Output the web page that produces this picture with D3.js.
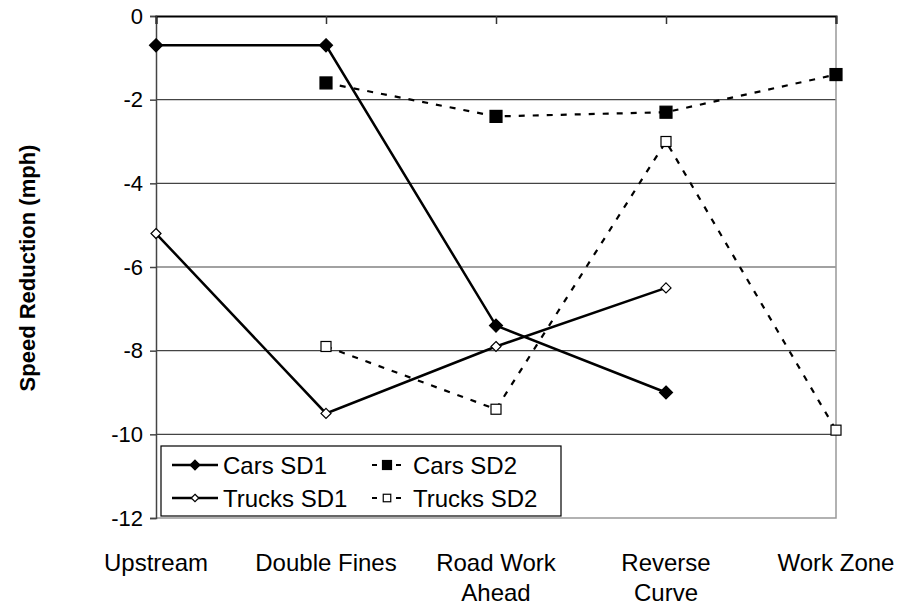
<!DOCTYPE html>
<html><head><meta charset="utf-8">
<script src="https://cdn.jsdelivr.net/npm/d3@7"></script>
<style>body{margin:0;background:#fff}svg{display:block;font-family:Arial,"Liberation Sans",sans-serif}</style>
</head><body>
<svg id="c" width="899" height="607"></svg>
<script>
const categories = ["Upstream","Double Fines","Road Work Ahead","Reverse Curve","Work Zone"];
const catLines = [["Upstream"],["Double Fines"],["Road Work","Ahead"],["Reverse","Curve"],["Work Zone"]];
const carsSD1 = [-0.7,-0.7,-7.4,-9.0,null];
const carsSD2 = [null,-1.6,-2.4,-2.3,-1.4];
const trucksSD1 = [-5.2,-9.5,-7.9,-6.5,null];
const trucksSD2 = [null,-7.9,-9.4,-3.0,-9.9];
const yTicks = [0,-2,-4,-6,-8,-10,-12];
const seriesNames = ["Cars SD1","Cars SD2","Trucks SD1","Trucks SD2"];

const svg = d3.select("#c");
const L=156,R=836,T=16,B=518;
const x = d3.scalePoint().domain(categories).range([L,R]);
const y = d3.scaleLinear().domain([-12,0]).range([B,T]);
const FONT = "Arial,'Liberation Sans',sans-serif";

// gridlines
svg.append("g").selectAll("line").data(yTicks.filter(v=>v<0&&v>-12)).join("line")
  .attr("x1",L).attr("x2",R).attr("y1",d=>y(d)).attr("y2",d=>y(d))
  .attr("stroke","#444").attr("stroke-width",1.2);
// plot border (right & bottom)
svg.append("path").attr("d",`M${L},${B}H${R}V${T}`).attr("fill","none").attr("stroke","#999").attr("stroke-width",1.5);

// y axis
const ya = svg.append("g").attr("transform",`translate(${L},0)`)
  .call(d3.axisLeft(y).tickValues(yTicks).tickSize(6).tickPadding(7).tickFormat(d=>String(d)));
ya.select(".domain").attr("stroke","#444").attr("stroke-width",1.5);
ya.selectAll(".tick line").attr("stroke","#444").attr("stroke-width",1.5);
ya.selectAll("text").attr("font-size",22).attr("font-family",FONT).attr("fill","#000");

// x axis at y=0 (top), ticks down
const xa = svg.append("g").attr("transform",`translate(0,${y(0)})`)
  .call(d3.axisBottom(x).tickSize(8).tickFormat(""));
xa.select(".domain").attr("stroke","#000").attr("stroke-width",2);
xa.selectAll(".tick line").attr("stroke","#333").attr("stroke-width",1.5);

// category labels at bottom
const cl = svg.append("g").selectAll("text").data(categories).join("text")
  .attr("x",d=>x(d)).attr("y",571).attr("text-anchor","middle").attr("font-size",24).attr("fill","#000");
cl.each(function(d,i){
  const t=d3.select(this);
  catLines[i].forEach((s,j)=>t.append("tspan").attr("x",x(d)).attr("dy",j?30:0).text(s));
});

// y title
svg.append("text").attr("transform","translate(35,268) rotate(-90)").attr("text-anchor","middle")
  .attr("font-size",22).attr("font-weight","bold").text("Speed Reduction (mph)");

// series
const lineGen = d3.line().defined(d=>d.v!=null).x(d=>x(d.c)).y(d=>y(d.v));
function pts(arr){return arr.map((v,i)=>({c:categories[i],v}));}
const styles = {
  "Cars SD1":{data:carsSD1,dash:null,w:2.5,marker:"diamond",fill:"#000",size:13},
  "Cars SD2":{data:carsSD2,dash:"6,8",w:2.2,marker:"square",fill:"#000",size:12},
  "Trucks SD1":{data:trucksSD1,dash:null,w:2.5,marker:"diamond",fill:"#fff",size:10},
  "Trucks SD2":{data:trucksSD2,dash:"6,8",w:2.2,marker:"square",fill:"#fff",size:10}
};
function drawMarker(g,st,cx,cy){
  const s=st.size;
  if(st.marker==="diamond"){
    g.append("path").attr("d",`M${cx},${cy-s/2}L${cx+s/2},${cy}L${cx},${cy+s/2}L${cx-s/2},${cy}Z`)
      .attr("fill",st.fill).attr("stroke","#000").attr("stroke-width",1.2);
  } else {
    g.append("rect").attr("x",cx-s/2).attr("y",cy-s/2).attr("width",s).attr("height",s)
      .attr("fill",st.fill).attr("stroke","#000").attr("stroke-width",1.2);
  }
}
["Trucks SD2","Cars SD2","Trucks SD1","Cars SD1"].forEach(n=>{
  const st=styles[n]; const g=svg.append("g");
  g.append("path").attr("d",lineGen(pts(st.data))).attr("fill","none").attr("stroke","#000")
    .attr("stroke-width",st.w).attr("stroke-dasharray",st.dash);
  pts(st.data).filter(d=>d.v!=null).forEach(d=>drawMarker(g,st,x(d.c),y(d.v)));
});

// legend
const lg = svg.append("g");
lg.append("rect").attr("x",161).attr("y",446).attr("width",400).attr("height",70)
  .attr("fill","#fff").attr("stroke","#000").attr("stroke-width",1.2);
const legPos = {"Cars SD1":[172,465],"Trucks SD1":[172,498],"Cars SD2":[372,465],"Trucks SD2":[372,498]};
seriesNames.forEach(n=>{
  const st=styles[n]; const [lx,ly]=legPos[n];
  const w = st.dash?30:46;
  lg.append("line").attr("x1",lx).attr("x2",lx+w).attr("y1",ly).attr("y2",ly).attr("stroke","#000")
    .attr("stroke-width",st.w).attr("stroke-dasharray",st.dash?"5,7":null);
  drawMarker(lg,Object.assign({},st,{size:st.size*0.75}),lx+w/2,ly);
  lg.append("text").attr("x",st.dash?lx+41:lx+51).attr("y",ly).attr("dy","0.36em").attr("font-size",24).text(n);
});
</script>
</body></html>
